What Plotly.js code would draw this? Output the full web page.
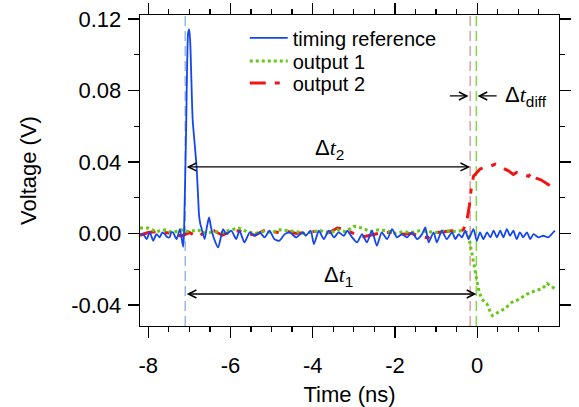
<!DOCTYPE html>
<html>
<head>
<meta charset="utf-8">
<script src="https://cdn.plot.ly/plotly-3.0.1.min.js"></script>
<style>html,body{margin:0;padding:0;background:#fff;}#chart{width:579px;height:407px;}</style>
</head>
<body>
<div id="chart"></div>
<script>
// timing reference (blue)
const timeRef = [-8.18,-8.12,-8.04,-7.96,-7.88,-7.80,-7.72,-7.66,-7.60,-7.54,-7.48,-7.44,-7.40,-7.31,-7.23,-7.15,-7.13,-7.08,-7.03,-7.005,-6.98,-6.92,-6.87,-6.825,-6.79,-6.762,-6.73,-6.71,-6.63,-6.57,-6.52,-6.47,-6.41,-6.30,-6.18,-6.10,-5.98,-5.86,-5.78,-5.66,-5.53,-5.41,-5.29,-5.17,-5.05,-4.93,-4.81,-4.68,-4.56,-4.40,-4.24,-4.17,-4.05,-3.97,-3.85,-3.73,-3.61,-3.48,-3.37,-3.24,-3.16,-3.04,-2.92,-2.80,-2.68,-2.56,-2.44,-2.32,-2.19,-2.07,-1.95,-1.83,-1.71,-1.58,-1.46,-1.34,-1.26,-1.18,-1.06,-0.98,-0.86,-0.74,-0.61,-0.53,-0.45,-0.37,-0.29,-0.21,-0.09,-0.01,0.07,0.15,0.24,0.32,0.40,0.48,0.56,0.64,0.72,0.80,0.88,0.96,1.04,1.12,1.21,1.29,1.37,1.49,1.61,1.73,1.85,1.89];
const vRef = [-0.0004,-0.0004,-0.0032,0.0006,-0.0041,-0.0004,-0.0022,0.0005,-0.0004,-0.0020,-0.0022,0.0006,0.0006,-0.0032,0.0024,-0.0075,0.0000,0.0560,0.1120,0.1142,0.1080,0.0640,0.0500,0.0376,0.0220,0.0097,0.0050,0.0034,-0.0032,0.0040,0.0089,0.0030,-0.0022,-0.0078,0.0024,-0.0004,0.0015,-0.0032,0.0015,-0.0050,0.0006,-0.0013,0.0006,-0.0022,0.0015,-0.0032,-0.0041,-0.0004,0.0006,-0.0022,0.0006,-0.0013,0.0015,-0.0060,0.0015,-0.0032,0.0015,-0.0022,0.0006,-0.0013,0.0015,-0.0022,-0.0050,-0.0004,-0.0050,0.0015,-0.0069,0.0006,-0.0032,0.0024,-0.0022,-0.0004,-0.0022,0.0006,-0.0032,-0.0004,0.0034,-0.0050,0.0006,-0.0050,0.0015,-0.0032,0.0006,-0.0032,-0.0004,-0.0022,0.0015,-0.0032,0.0024,-0.0041,0.0006,-0.0032,0.0006,-0.0022,0.0015,-0.0022,0.0015,-0.0022,0.0024,-0.0013,0.0015,-0.0032,0.0006,-0.0022,0.0006,-0.0032,-0.0004,-0.0022,-0.0013,-0.0022,0.0006,0.0015];

// output 1 (green)
const time1 = [-8.2,-8.0,-7.8,-7.6,-7.4,-7.2,-7.0,-6.8,-6.6,-6.4,-6.2,-6.0,-5.8,-5.6,-5.4,-5.2,-5.0,-4.8,-4.6,-4.4,-4.2,-4.0,-3.8,-3.6,-3.4,-3.2,-3.0,-2.8,-2.6,-2.4,-2.2,-2.0,-1.8,-1.6,-1.4,-1.2,-1.0,-0.8,-0.6,-0.4,-0.22,-0.17,-0.09,-0.03,0.03,0.11,0.24,0.32,0.37,0.52,0.68,0.84,1.00,1.21,1.42,1.58,1.70,1.89];
const v1 = [0.0030,0.0030,0.0010,0.0020,0.0005,0.0020,0.0010,0.0020,0.0000,0.0010,0.0005,0.0020,0.0030,0.0010,0.0000,0.0010,0.0005,0.0020,0.0015,0.0010,0.0000,0.0010,0.0015,0.0000,0.0020,0.0010,0.0040,0.0030,0.0010,0.0020,0.0015,0.0000,0.0010,0.0005,0.0015,0.0010,0.0005,0.0015,0.0010,0.0015,0.0005,-0.0060,-0.0160,-0.0236,-0.0310,-0.0367,-0.0395,-0.0440,-0.0460,-0.0440,-0.0420,-0.0386,-0.0370,-0.0340,-0.0320,-0.0310,-0.0280,-0.0310];

// output 2 (red)
const time2 = [-8.2,-8.0,-7.8,-7.6,-7.4,-7.2,-7.0,-6.8,-6.6,-6.4,-6.2,-6.0,-5.8,-5.6,-5.4,-5.2,-5.0,-4.8,-4.6,-4.4,-4.2,-4.0,-3.8,-3.6,-3.4,-3.2,-3.0,-2.8,-2.6,-2.4,-2.2,-2.0,-1.8,-1.6,-1.4,-1.2,-1.0,-0.8,-0.6,-0.4,-0.33,-0.25,-0.19,-0.15,-0.09,-0.01,0.07,0.19,0.30,0.44,0.60,0.76,0.88,0.96,1.10,1.25,1.33,1.42,1.55,1.66,1.78,1.89];
const v2 = [-0.0010,0.0005,0.0010,0.0005,0.0000,-0.0015,0.0005,-0.0020,0.0010,0.0015,-0.0010,0.0010,0.0015,0.0000,-0.0010,0.0015,0.0010,0.0005,0.0010,0.0000,0.0005,0.0010,0.0015,0.0005,0.0030,0.0020,0.0000,-0.0020,-0.0010,0.0000,0.0005,0.0010,-0.0005,0.0000,-0.0015,-0.0025,0.0005,0.0010,0.0015,0.0010,0.0024,0.0070,0.0155,0.0240,0.0320,0.0340,0.0360,0.0370,0.0375,0.0387,0.0370,0.0350,0.0330,0.0341,0.0330,0.0320,0.0340,0.0310,0.0300,0.0285,0.0266,0.0247];

// tick labels
const xTickVals = [-8, -6, -4, -2, 0];
const xTickText = ['-8', '-6', '-4', '-2', '0'];
const yTickVals = [-0.04, 0, 0.04, 0.08, 0.12];
const yTickText = ['-0.04', '0.00', '0.04', '0.08', '0.12'];

// marker positions of the vertical guide lines (ns)
const tRefLine = -7.1;
const tOut2Line = -0.17;
const tOut1Line = -0.02;

// arrow levels (V)
const yDt2 = 0.0372;
const yDt1 = -0.0339;
const yDiff = 0.0769;

const xRange = [-8.2, 1.99];
const yRange = [-0.0518, 0.1222];

const traces = [
  {x: time2, y: v2, name: 'output 2', type: 'scatter', mode: 'lines', legend: 'legend3',
   line: {color: 'rgb(240,20,20)', width: 3, dash: '16px,9px,5px,9px'}},
  {x: time1, y: v1, name: 'output 1', type: 'scatter', mode: 'lines', legend: 'legend2',
   line: {color: 'rgb(100,200,20)', width: 3, dash: 'dot'}},
  {x: timeRef, y: vRef, name: 'timing reference', type: 'scatter', mode: 'lines', legend: 'legend',
   line: {color: 'rgb(20,70,240)', width: 1.8, shape: 'spline', smoothing: 0.6}}
];

function vline(x, color) {
  return {type: 'line', xref: 'x', yref: 'paper', x0: x, x1: x, y0: 0, y1: 1,
          layer: 'below', line: {color: color, width: 1.5, dash: '10px,5px'}};
}

function arrow(x, y, ax, ay, both) {
  const a = {x: x, y: y, ax: ax, ay: ay, xref: 'x', yref: 'y', axref: 'x', ayref: 'y',
    text: '', showarrow: true, arrowhead: 5, arrowsize: 1.2, arrowwidth: 1.3, arrowcolor: 'black'};
  if (both) { a.arrowside = 'end+start'; a.startarrowhead = 5; a.startarrowsize = 1.2; }
  return a;
}

const FONT = 'Liberation Sans, Arial, sans-serif';
const labFont = {family: FONT, size: 22, color: 'black'};
const tDelta = (sub) => 'Δ<span style="font-family:Liberation Serif">' + '<i>t</i></span><sub>' + sub + '</sub>';

function leg(py) {
  return {x: 0.25, y: 1 - (py - 15) / 311.5, xanchor: 'left', yanchor: 'middle', bgcolor: 'rgba(0,0,0,0)',
          font: {family: FONT, size: 20, color: 'black'}, itemwidth: 38};
}

const axisCommon = {
  showgrid: false, zeroline: false, showline: true, linecolor: 'black', linewidth: 1.3, mirror: 'ticks',
  ticks: 'outside', ticklen: 11, tickwidth: 1.3, tickcolor: 'black', tickmode: 'array',
  tickfont: {family: FONT, size: 22, color: 'black'}
};

const layout = {
  width: 579, height: 407,
  margin: {l: 139.5, r: 20, t: 15, b: 80.5},
  paper_bgcolor: 'white', plot_bgcolor: 'white',
  showlegend: true,
  legend: leg(38), legend2: leg(61), legend3: leg(83),
  xaxis: Object.assign({}, axisCommon, {
    range: xRange, tickvals: xTickVals, ticktext: xTickText, ticklabelstandoff: 8,
    minor: {tickmode: 'linear', tick0: 0, dtick: 0.5, ticks: 'outside', ticklen: 5, tickwidth: 1.3, tickcolor: 'black'},
    title: {text: 'Time (ns)', font: {family: FONT, size: 22, color: 'black'}, standoff: 14}}),
  yaxis: Object.assign({}, axisCommon, {
    range: yRange, tickvals: yTickVals, ticktext: yTickText, ticklabelstandoff: 2,
    minor: {tickmode: 'linear', tick0: 0, dtick: 0.02, ticks: 'outside', ticklen: 5, tickwidth: 1.3, tickcolor: 'black'},
    title: {text: 'Voltage (V)', font: {family: FONT, size: 22, color: 'black'}, standoff: 28}}),
  shapes: [vline(tRefLine, 'rgb(150,185,235)'), vline(tOut2Line, 'rgb(230,160,160)'), vline(tOut1Line, 'rgb(130,215,70)')],
  annotations: [
    arrow(tOut2Line, yDt2, tRefLine, yDt2, true),
    arrow(tOut1Line, yDt1, tRefLine, yDt1, true),
    arrow(-0.21, yDiff, -0.70, yDiff, false),
    arrow(0.01, yDiff, 0.51, yDiff, false),
    {x: -3.58, y: yDt2 + 0.0012, xref: 'x', yref: 'y', xanchor: 'center', yanchor: 'bottom', showarrow: false, text: tDelta('2'), font: labFont},
    {x: -3.37, y: yDt1 + 0.0012, xref: 'x', yref: 'y', xanchor: 'center', yanchor: 'bottom', showarrow: false, text: tDelta('1'), font: labFont},
    {x: 0.62, y: yDiff, xref: 'x', yref: 'y', xanchor: 'left', yanchor: 'middle', showarrow: false, text: tDelta('diff'), font: labFont}
  ]
};

Plotly.newPlot('chart', traces, layout, {displayModeBar: false, staticPlot: true});
</script>
</body>
</html>
